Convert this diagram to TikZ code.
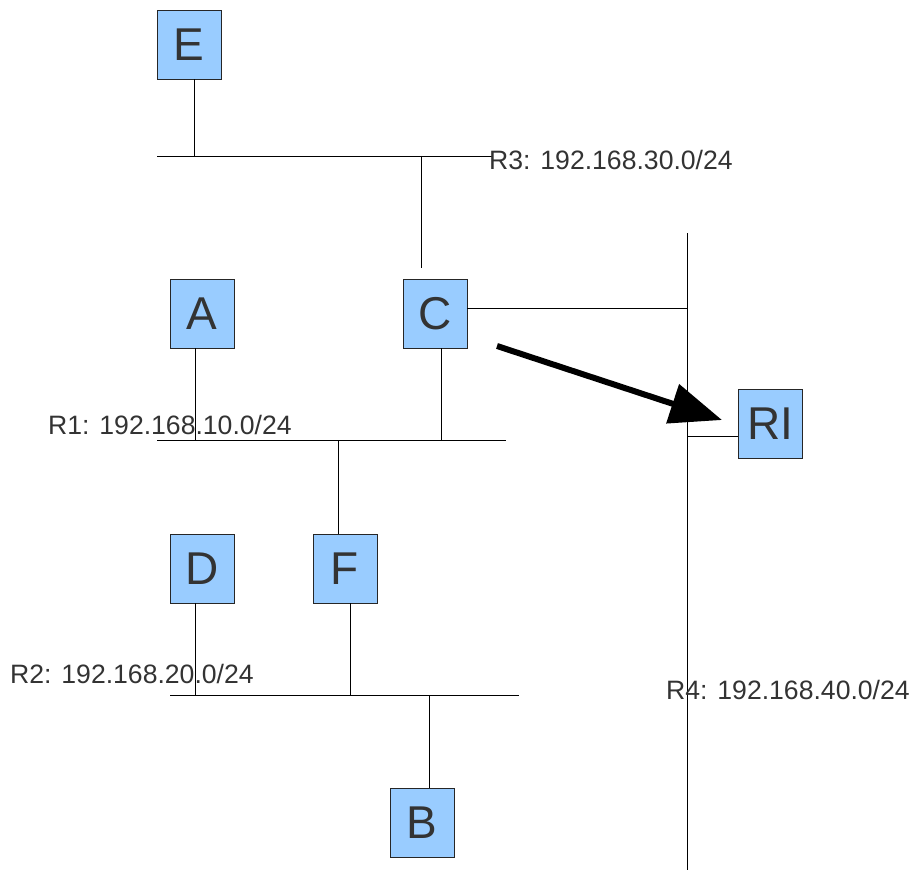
\documentclass[tikz,border=0pt]{standalone}
\usepackage{fontspec}
\setmainfont{Liberation Sans}
\usetikzlibrary{arrows.meta}
\definecolor{boxfill}{HTML}{99CCFF}
\definecolor{txt}{HTML}{333333}
\begin{document}
\begin{tikzpicture}[x=1pt,y=-1pt,
  host/.style={draw=black!85,line width=0.9pt,fill=boxfill,minimum width=64pt,minimum height=69pt,inner sep=0pt,text=txt,font=\fontsize{46}{46}\selectfont},
  net/.style={draw=black,line width=0.9pt},
  lbl/.style={text=txt,font=\fontsize{26.6}{26.6}\selectfont,inner sep=0pt,anchor=west}]
\useasboundingbox (0,0) rectangle (911,872);
% hosts
\node[host] (E) at (189,44.5) {E};
\node[host] (A) at (202,313.5) {A};
\node[host] (C) at (435,313.5) {C};
\node[host] (RI) at (770,424) {RI};
\node[host] (D) at (202,568.5) {D};
\node[host] (F) at (345,568.5) {F};
\node[host] (B) at (422,822.5) {B};
% bus coordinates
\coordinate (r3l) at (157,156); \coordinate (r3r) at (492,156);
\coordinate (r1l) at (157,440); \coordinate (r1r) at (506,440);
\coordinate (r2l) at (170,695); \coordinate (r2r) at (519,695);
\coordinate (r4t) at (687,233); \coordinate (r4b) at (687,870);
\draw[net] (r3l) -- (r3r);
\draw[net] (r1l) -- (r1r);
\draw[net] (r2l) -- (r2r);
\draw[net] (r4t) -- (r4b);
% labels
\node[lbl] (l3) at (489,160) {R3: 192.168.30.0/24};
\node[lbl] (l1) at (48,425) {R1: 192.168.10.0/24};
\node[lbl] (l2) at (10,674) {R2: 192.168.20.0/24};
\node[lbl] (l4) at (666,690) {R4: 192.168.40.0/24};
% drops
\draw[net] (E.south -| 194,0) -- (194,156);
\draw[net] (421,156) -- (421,268);
\draw[net] (C.east |- 0,308) -- (687,308);
\draw[net] (C.south -| 441,0) -- (441,440);
\draw[net] (A.south -| 195,0) -- (195,440);
\draw[net] (338,440) -- (F.north -| 338,0);
\draw[net] (D.south -| 195,0) -- (195,695);
\draw[net] (F.south -| 350,0) -- (350,695);
\draw[net] (429,695) -- (B.north -| 429,0);
\draw[net] (687,436) -- (RI.west |- 0,436);
% arrow
\coordinate (as) at (497,346);
\coordinate (ae) at (722,420);
\draw[line width=6pt,-{Triangle[length=52pt,width=40pt]}] (as) -- (ae);
\end{tikzpicture}
\end{document}
